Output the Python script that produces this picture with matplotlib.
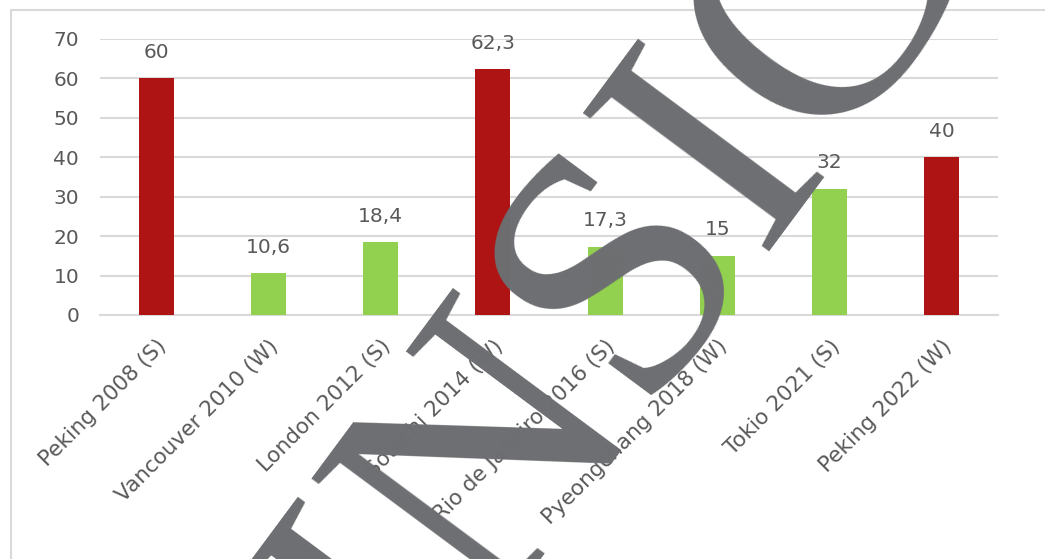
import matplotlib
matplotlib.use("Agg")
import matplotlib.pyplot as plt
from matplotlib.patches import Rectangle

categories = ["Peking 2008 (S)", "Vancouver 2010 (W)", "London 2012 (S)", "Sotschi 2014 (W)",
              "Rio de Janeiro 2016 (S)", "Pyeongchang 2018 (W)", "Tokio 2021 (S)", "Peking 2022 (W)"]
values = [60, 10.6, 18.4, 62.3, 17.3, 15, 32, 40]
labels = ["60", "10,6", "18,4", "62,3", "17,3", "15", "32", "40"]
host_china_or_russia = [True, False, False, True, False, False, False, True]
yticks = [0, 10, 20, 30, 40, 50, 60, 70]
watermark = "EINSICHT"

RED = "#AF1414"
GREEN = "#92D050"
TXT = "#595959"
GRID = "#D9D9D9"

plt.rcParams['font.family'] = ['DejaVu Sans']

fig = plt.figure(figsize=(10.45, 5.59), dpi=100)
fig.patches.append(Rectangle((11/1045, -0.1), 1.2, 1 - 10/559 + 0.1, transform=fig.transFigure,
                             fill=False, edgecolor="#D9D9D9", lw=1.5, zorder=0))
ax = fig.add_axes([100/1045, 1 - 315/559, 898/1045, 276/559])

colors = [RED if h else GREEN for h in host_china_or_russia]
x = list(range(len(categories)))
ax.bar(x, values, width=0.31, color=colors, zorder=3)
for xi, v, lab in zip(x, values, labels):
    ax.text(xi, v + 4.2, lab, ha="center", va="bottom", fontsize=14.5, color=TXT)

ax.set_xlim(-0.5, 7.5)
ax.set_ylim(0, 70)
ax.set_yticks(yticks)
ax.set_yticklabels([str(t) for t in yticks], fontsize=14.5, color=TXT)
ax.yaxis.grid(True, color=GRID, lw=1.5, zorder=0)
ax.set_axisbelow(True)
for s in ["top", "right", "left"]:
    ax.spines[s].set_visible(False)
ax.spines["bottom"].set_color(GRID)
ax.spines["bottom"].set_linewidth(1.5)
ax.tick_params(axis="both", length=0)
ax.tick_params(axis="y", pad=15)
ax.set_xticks(x)
ax.set_xticklabels(categories, rotation=45, ha="right", rotation_mode="anchor",
                   fontsize=15.5, color=TXT)
ax.tick_params(axis="x", pad=15)

fig.text(770/1045, 1 - 237/559, watermark, fontsize=255, family="Liberation Serif",
         color="#6D6E71", rotation=53.4, rotation_mode="anchor", ha="center", va="baseline",
         zorder=10)

fig.savefig("out.png", dpi=100)
